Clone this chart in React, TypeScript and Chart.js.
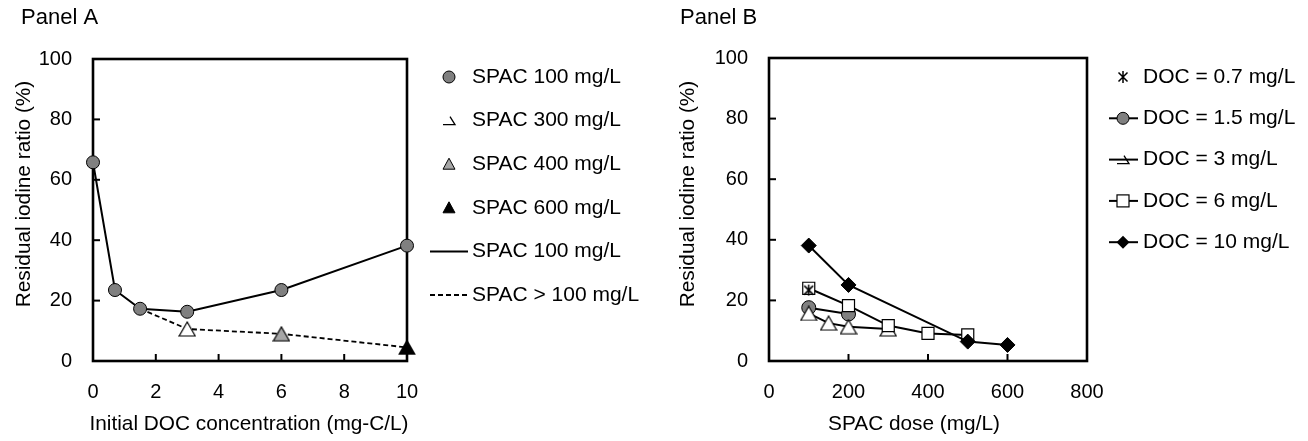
import React, { useEffect, useRef } from 'react';
import { Chart, registerables } from 'chart.js';

Chart.register(...registerables);

const FONT = '"Liberation Sans", Arial, Helvetica, sans-serif';
const GRAY = '#808080';
const LIGHT_GRAY = '#a6a6a6';

// ---------------- Panel A data ----------------
const panelATitle = 'Panel A';
const docA = [0, 0.7, 1.5, 3, 6, 10];
const spac100A = [65.8, 23.5, 17.3, 16.3, 23.5, 38.2];
const spac300X = [3];
const spac300Y = [10.6];
const spac400X = [6];
const spac400Y = [9.0];
const spac600X = [10];
const spac600Y = [4.5];
const spacOverX = [1.5, 3, 6, 10];
const spacOverY = [17.3, 10.6, 9.0, 4.5];
const xTicksA = [0, 2, 4, 6, 8, 10];
const yTicks = [0, 20, 40, 60, 80, 100];
const legendA = ['SPAC 100 mg/L', 'SPAC 300 mg/L', 'SPAC 400 mg/L', 'SPAC 600 mg/L', 'SPAC 100 mg/L', 'SPAC > 100 mg/L'];
const xTitleA = 'Initial DOC concentration (mg-C/L)';
const yTitle = 'Residual iodine ratio (%)';

// ---------------- Panel B data ----------------
const panelBTitle = 'Panel B';
const doc07X = [100];
const doc07Y = [23.4];
const doc15X = [100, 200];
const doc15Y = [17.6, 15.5];
const doc3X = [100, 150, 200, 300];
const doc3Y = [15.7, 12.5, 11.3, 10.6];
const doc6X = [100, 200, 300, 400, 500];
const doc6Y = [24.0, 18.3, 11.7, 9.1, 8.6];
const doc10X = [100, 200, 500, 600];
const doc10Y = [38.1, 25.1, 6.4, 5.3];
const xTicksB = [0, 200, 400, 600, 800];
const legendB = ['DOC = 0.7 mg/L', 'DOC = 1.5 mg/L', 'DOC = 3 mg/L', 'DOC = 6 mg/L', 'DOC = 10 mg/L'];
const xTitleB = 'SPAC dose (mg/L)';

const pts = (xs: number[], ys: number[]) => xs.map((x, i) => ({ x, y: ys[i] }));

function triangleImg(fill: string, w: number, h: number) {
  const c = document.createElement('canvas');
  c.width = w + 2;
  c.height = h + 2;
  const ctx = c.getContext('2d')!;
  ctx.beginPath();
  ctx.moveTo(1 + w / 2, 1);
  ctx.lineTo(1 + w, 1 + h);
  ctx.lineTo(1, 1 + h);
  ctx.closePath();
  ctx.fillStyle = fill;
  ctx.fill();
  ctx.lineWidth = 1.2;
  ctx.strokeStyle = '#000';
  ctx.stroke();
  return c;
}

function asteriskImg(s: number) {
  const c = document.createElement('canvas');
  c.width = s + 2;
  c.height = s + 2;
  const ctx = c.getContext('2d')!;
  const m = (s + 2) / 2;
  const r = s / 2;
  ctx.strokeStyle = '#000';
  ctx.lineWidth = 1.5;
  ctx.beginPath();
  ctx.moveTo(m, m - r);
  ctx.lineTo(m, m + r);
  const d = r * 0.8;
  ctx.moveTo(m - d, m - d);
  ctx.lineTo(m + d, m + d);
  ctx.moveTo(m + d, m - d);
  ctx.lineTo(m - d, m + d);
  ctx.stroke();
  return c;
}

type Marker = 'circle' | 'triPartial' | 'triGray' | 'triBlack' | 'square' | 'diamond' | 'asterisk' | 'none';
interface LegendItem { text: string; marker: Marker; line: 'none' | 'solid' | 'dash'; }

function drawMarker(ctx: CanvasRenderingContext2D, m: Marker, x: number, y: number) {
  ctx.save();
  ctx.strokeStyle = '#000';
  ctx.lineWidth = 1;
  if (m === 'circle') {
    ctx.beginPath();
    ctx.arc(x, y, 6, 0, Math.PI * 2);
    ctx.fillStyle = GRAY;
    ctx.fill();
    ctx.stroke();
  } else if (m === 'triGray' || m === 'triBlack') {
    ctx.beginPath();
    ctx.moveTo(x, y - 6);
    ctx.lineTo(x + 6, y + 5);
    ctx.lineTo(x - 6, y + 5);
    ctx.closePath();
    ctx.fillStyle = m === 'triGray' ? LIGHT_GRAY : '#000';
    ctx.fill();
    ctx.stroke();
  } else if (m === 'triPartial') {
    ctx.lineWidth = 1.3;
    ctx.beginPath();
    ctx.moveTo(x + 1, y - 4);
    ctx.lineTo(x + 6, y + 4);
    ctx.lineTo(x - 6, y + 4);
    ctx.stroke();
  } else if (m === 'square') {
    ctx.fillStyle = '#fff';
    ctx.fillRect(x - 6, y - 6, 12, 12);
    ctx.lineWidth = 1.2;
    ctx.strokeRect(x - 6, y - 6, 12, 12);
  } else if (m === 'diamond') {
    ctx.beginPath();
    ctx.moveTo(x, y - 6.5);
    ctx.lineTo(x + 6.5, y);
    ctx.lineTo(x, y + 6.5);
    ctx.lineTo(x - 6.5, y);
    ctx.closePath();
    ctx.fillStyle = '#000';
    ctx.fill();
  } else if (m === 'asterisk') {
    ctx.lineWidth = 1.5;
    ctx.beginPath();
    ctx.moveTo(x, y - 6);
    ctx.lineTo(x, y + 6);
    ctx.moveTo(x - 4.5, y - 4.5);
    ctx.lineTo(x + 4.5, y + 4.5);
    ctx.moveTo(x + 4.5, y - 4.5);
    ctx.lineTo(x - 4.5, y + 4.5);
    ctx.stroke();
  }
  ctx.restore();
}

interface Decor {
  title: string; titleX: number; titleY: number;
  xTitle: string; xTitleX: number; xTitleY: number;
  yTitle: string; yTitleX: number; yTitleY: number;
  legend: LegendItem[]; legX0: number; legX1: number; legMarkerX: number; legTextX: number; legY0: number; legDY: number;
}

function decorPlugin(d: Decor) {
  return {
    id: 'decor',
    beforeDatasetsDraw(chart: any) {
      const { ctx, chartArea: a, scales } = chart;
      ctx.save();
      ctx.strokeStyle = '#000';
      ctx.lineWidth = 2;
      for (const t of scales.x.ticks) {
        const px = scales.x.getPixelForValue(t.value);
        ctx.beginPath();
        ctx.moveTo(px, a.bottom);
        ctx.lineTo(px, a.bottom - 7);
        ctx.stroke();
      }
      for (const t of scales.y.ticks) {
        const py = scales.y.getPixelForValue(t.value);
        ctx.beginPath();
        ctx.moveTo(a.left, py);
        ctx.lineTo(a.left + 7, py);
        ctx.stroke();
      }
      ctx.lineWidth = 2.6;
      ctx.strokeRect(a.left, a.top, a.right - a.left, a.bottom - a.top);
      ctx.restore();
    },
    afterDraw(chart: any) {
      const { ctx } = chart;
      ctx.save();
      ctx.fillStyle = '#000';
      ctx.textBaseline = 'alphabetic';
      ctx.textAlign = 'left';
      ctx.font = `22px ${FONT}`;
      ctx.fillText(d.title, d.titleX, d.titleY);

      ctx.font = `20.8px ${FONT}`;
      ctx.textAlign = 'center';
      ctx.textBaseline = 'middle';
      ctx.fillText(d.xTitle, d.xTitleX, d.xTitleY);

      ctx.save();
      ctx.translate(d.yTitleX, d.yTitleY);
      ctx.rotate(-Math.PI / 2);
      ctx.fillText(d.yTitle, 0, 0);
      ctx.restore();

      ctx.font = `21px ${FONT}`;
      ctx.textAlign = 'left';
      d.legend.forEach((it, i) => {
        const y = d.legY0 + i * d.legDY;
        if (it.line !== 'none') {
          ctx.save();
          ctx.strokeStyle = '#000';
          ctx.lineWidth = 2;
          if (it.line === 'dash') ctx.setLineDash([5, 3]);
          ctx.beginPath();
          ctx.moveTo(d.legX0, y);
          ctx.lineTo(d.legX1, y);
          ctx.stroke();
          ctx.restore();
        }
        drawMarker(ctx, it.marker, d.legMarkerX, y);
        ctx.fillStyle = '#000';
        ctx.fillText(it.text, d.legTextX, y);
      });
      ctx.restore();
    },
  };
}

function makeScales(xTicks: number[], xMax: number, yWidth: number) {
  const tickFont = { family: FONT, size: 20 };
  return {
    x: {
      type: 'linear' as const,
      min: 0,
      max: xMax,
      afterBuildTicks: (s: any) => { s.ticks = xTicks.map((v) => ({ value: v })); },
      afterFit: (s: any) => { s.height = 80; },
      grid: { display: false, drawTicks: false },
      border: { display: false },
      ticks: { color: '#000', font: tickFont, padding: 19, maxRotation: 0, autoSkip: false },
    },
    y: {
      type: 'linear' as const,
      min: 0,
      max: 100,
      afterBuildTicks: (s: any) => { s.ticks = yTicks.map((v) => ({ value: v })); },
      afterFit: (s: any) => { s.width = yWidth; },
      grid: { display: false, drawTicks: false },
      border: { display: false },
      ticks: { color: '#000', font: tickFont, padding: 21, autoSkip: false },
    },
  };
}

export default function App() {
  const refA = useRef<HTMLCanvasElement>(null);
  const refB = useRef<HTMLCanvasElement>(null);

  useEffect(() => {
    const triWhite = triangleImg('#fff', 16, 14);
    const triGray = triangleImg(LIGHT_GRAY, 16, 14);
    const triBlack = triangleImg('#000', 16, 14);
    const star = asteriskImg(11);

    const chartA = new Chart(refA.current!, {
      type: 'scatter',
      data: {
        datasets: [
          { label: legendA[0], data: pts(docA, spac100A), showLine: true, borderColor: '#000', borderWidth: 2,
            pointStyle: 'circle', pointRadius: 6.5, pointBackgroundColor: GRAY, pointBorderColor: '#000', pointBorderWidth: 1, order: 0, clip: false } as any,
          { label: legendA[1], data: pts(spac300X, spac300Y), showLine: false, pointStyle: triWhite, pointRadius: 8, order: 1, clip: false } as any,
          { label: legendA[2], data: pts(spac400X, spac400Y), showLine: false, pointStyle: triGray, pointRadius: 8, order: 2, clip: false } as any,
          { label: legendA[3], data: pts(spac600X, spac600Y), showLine: false, pointStyle: triBlack, pointRadius: 8, order: 3, clip: false } as any,
          { label: legendA[5], data: pts(spacOverX, spacOverY), showLine: true, borderColor: '#000', borderWidth: 1.8,
            borderDash: [5, 3], pointRadius: 0, order: 5, clip: false } as any,
        ],
      },
      options: {
        animation: false,
        responsive: false,
        devicePixelRatio: 1,
        layout: { padding: { left: 0, top: 59, right: 253, bottom: 0 } },
        plugins: { legend: { display: false }, tooltip: { enabled: false } },
        scales: makeScales(xTicksA, 10, 93) as any,
      },
      plugins: [decorPlugin({
        title: panelATitle, titleX: 21, titleY: 24,
        xTitle: xTitleA, xTitleX: 249, xTitleY: 424,
        yTitle, yTitleX: 24, yTitleY: 194,
        legend: [
          { text: legendA[0], marker: 'circle', line: 'none' },
          { text: legendA[1], marker: 'triPartial', line: 'none' },
          { text: legendA[2], marker: 'triGray', line: 'none' },
          { text: legendA[3], marker: 'triBlack', line: 'none' },
          { text: legendA[4], marker: 'none', line: 'solid' },
          { text: legendA[5], marker: 'none', line: 'dash' },
        ],
        legX0: 430, legX1: 468, legMarkerX: 449, legTextX: 472, legY0: 77, legDY: 43.6,
      }) as any],
    });

    const chartB = new Chart(refB.current!, {
      type: 'scatter',
      data: {
        datasets: [
          { label: legendB[0], data: pts(doc07X, doc07Y), showLine: false, pointStyle: star, pointRadius: 6, order: 0, clip: false } as any,
          { label: legendB[4], data: pts(doc10X, doc10Y), showLine: true, borderColor: '#000', borderWidth: 2,
            pointStyle: 'rectRot', pointRadius: 7.5, pointBackgroundColor: '#000', pointBorderColor: '#000', pointBorderWidth: 1, order: 1, clip: false } as any,
          { label: legendB[3], data: pts(doc6X, doc6Y), showLine: true, borderColor: '#000', borderWidth: 2,
            pointStyle: 'rect', pointRadius: 8.5, pointBackgroundColor: '#fff', pointBorderColor: '#000', pointBorderWidth: 1.2, order: 2, clip: false } as any,
          { label: legendB[2], data: pts(doc3X, doc3Y), showLine: true, borderColor: '#000', borderWidth: 2,
            pointStyle: triWhite, pointRadius: 8, order: 3, clip: false } as any,
          { label: legendB[1], data: pts(doc15X, doc15Y), showLine: true, borderColor: '#000', borderWidth: 2,
            pointStyle: 'circle', pointRadius: 7, pointBackgroundColor: GRAY, pointBorderColor: '#000', pointBorderWidth: 1, order: 4, clip: false } as any,
        ],
      },
      options: {
        animation: false,
        responsive: false,
        devicePixelRatio: 1,
        layout: { padding: { left: 0, top: 58, right: 221, bottom: 0 } },
        plugins: { legend: { display: false }, tooltip: { enabled: false } },
        scales: makeScales(xTicksB, 800, 109) as any,
      },
      plugins: [decorPlugin({
        title: panelBTitle, titleX: 20, titleY: 24,
        xTitle: xTitleB, xTitleX: 254, xTitleY: 424,
        yTitle, yTitleX: 28, yTitleY: 194,
        legend: [
          { text: legendB[0], marker: 'asterisk', line: 'none' },
          { text: legendB[1], marker: 'circle', line: 'solid' },
          { text: legendB[2], marker: 'triPartial', line: 'solid' },
          { text: legendB[3], marker: 'square', line: 'solid' },
          { text: legendB[4], marker: 'diamond', line: 'solid' },
        ],
        legX0: 449, legX1: 478, legMarkerX: 463, legTextX: 483, legY0: 77, legDY: 41.3,
      }) as any],
    });

    return () => {
      chartA.destroy();
      chartB.destroy();
    };
  }, []);

  return (
    <div style={{ position: 'fixed', left: 0, top: 0, width: 1308, height: 441, background: '#fff' }}>
      <canvas ref={refA} width={660} height={441} style={{ position: 'absolute', left: 0, top: 0, width: 660, height: 441 }} />
      <canvas ref={refB} width={648} height={441} style={{ position: 'absolute', left: 660, top: 0, width: 648, height: 441 }} />
    </div>
  );
}
